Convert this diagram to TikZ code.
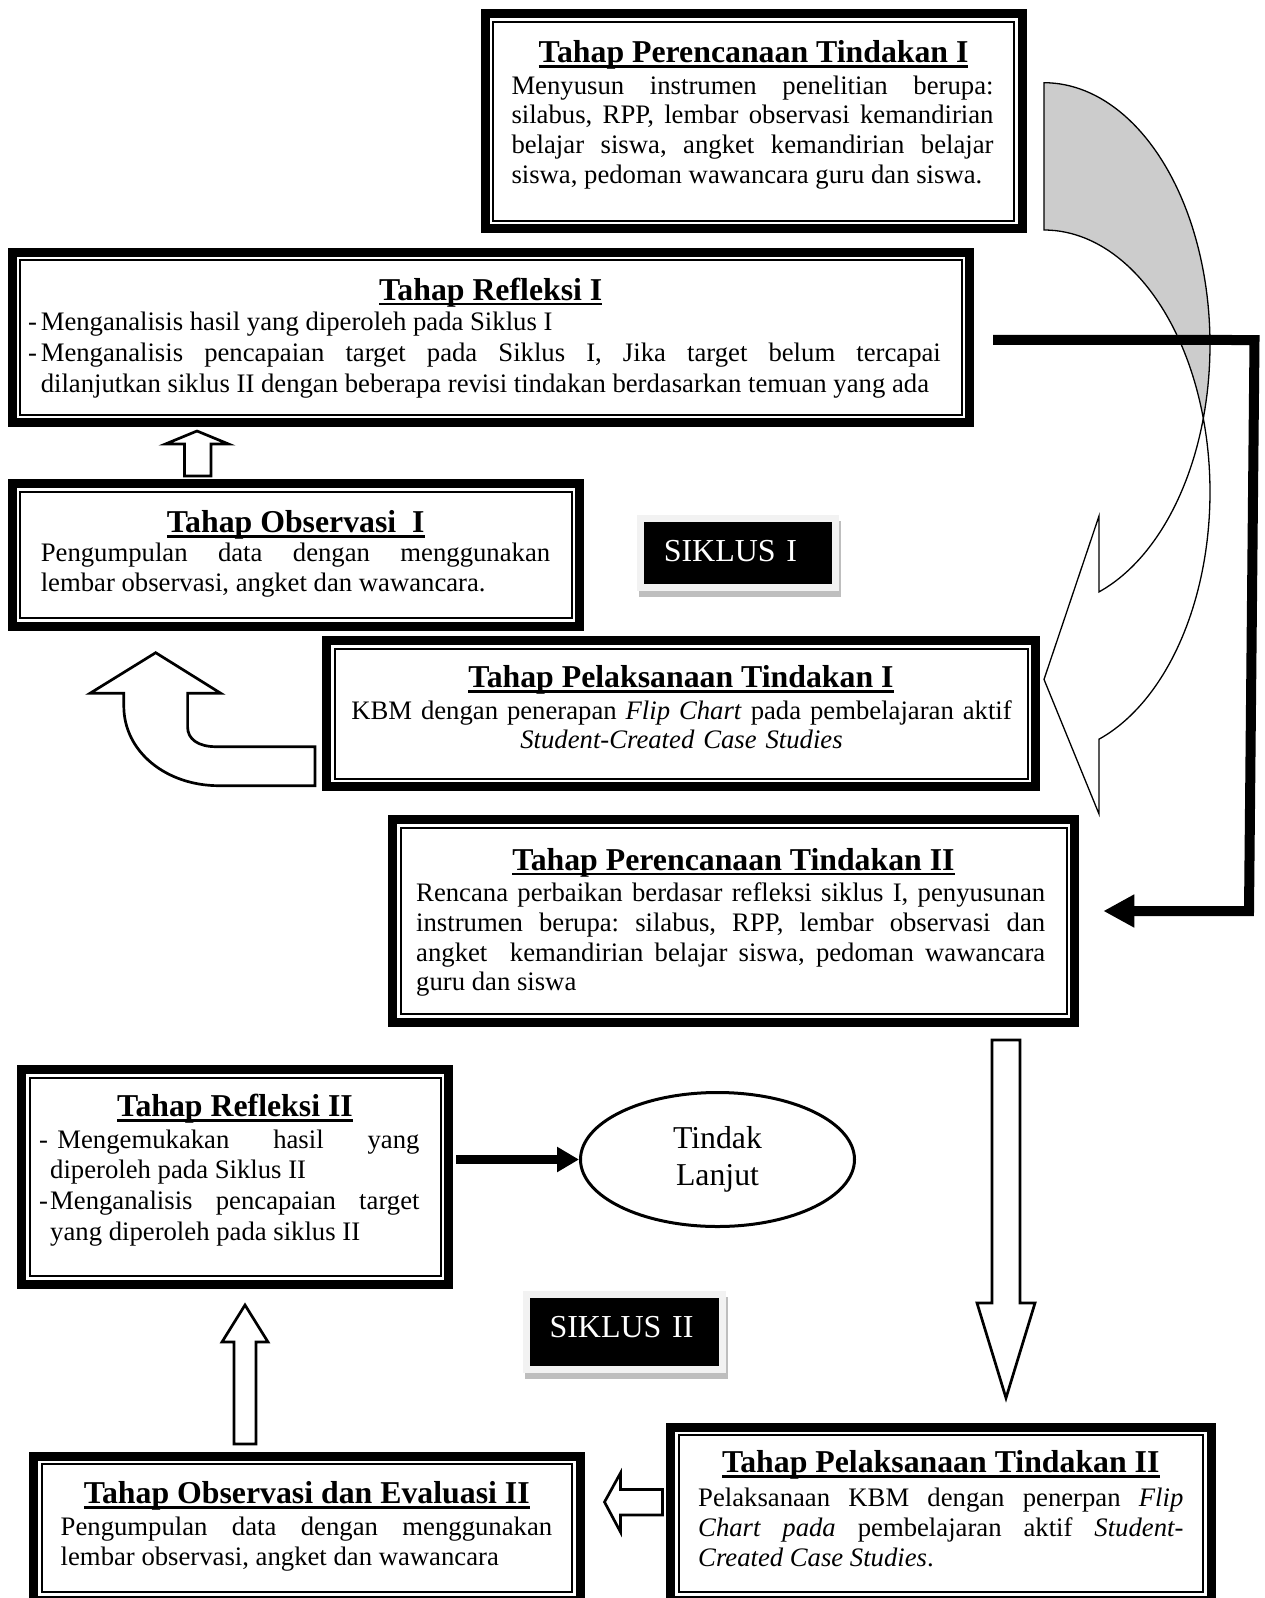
\documentclass[tikz,border=0pt]{standalone}
\usepackage{fontspec}
\setmainfont{Liberation Serif}
\usetikzlibrary{arrows.meta,positioning,calc,shapes.geometric}
\definecolor{RibbonGray}{RGB}{204,204,204}
\definecolor{LabelLight}{RGB}{242,242,242}
\definecolor{LabelShade}{RGB}{190,190,190}
\newsavebox{\headbox}
\newcommand{\headline}[1]{\sbox{\headbox}{#1}\rlap{\rule[-5.3pt]{\wd\headbox}{2.6pt}}\usebox{\headbox}}
\newcommand{\dashitem}[2]{\hangindent=#1\hangafter=1\noindent\makebox[#2][l]{-}}
\tolerance=10000 \hbadness=10000 \hyphenpenalty=10000
\frenchspacing

\begin{document}
\begin{tikzpicture}[x=1pt,y=-1pt,>=Latex,
  stage/.style={draw, line width=2pt, fill=white, inner sep=0pt, outer sep=0pt,
    preaction={draw, line width=25pt},
    preaction={draw=white, line width=7pt}},
  tahap/.style={font=\bfseries\fontsize{31.8}{36}\selectfont, anchor=base, inner sep=0pt},
  isi/.style={font=\fontsize{26.7}{#1}\selectfont, anchor=base west, inner sep=0pt, align=justify},
  hollow/.style={draw, fill=white, line width=2.7pt, line join=miter},
  link/.style={line width=10pt, line join=miter},
  ribbon/.style={draw, line width=1.3pt},
  siklus/.style={fill=black, text=white, font=\fontsize{32}{38}\selectfont,
    align=left, inner xsep=19.5pt, inner ysep=0pt, text height=22pt,
    preaction={draw=LabelShade, line width=14pt, transform canvas={shift={(1.5pt,-6pt)}}},
    preaction={draw=LabelLight, line width=14pt}}]
  \fill[white] (0,0) rectangle (1264,1598);
  \useasboundingbox (0,0) rectangle (1264,1598);

  % frames
  \node[stage, minimum width=521.2pt, minimum height=198.7pt] (plan1) at (753.6,121.2) {};
  \node[stage, minimum width=941.5pt, minimum height=154.5pt] (refl1) at (490.75,337.25) {};
  \node[stage, minimum width=551.5pt, minimum height=126.4pt] (obs1) at (295.75,555) {};
  \node[stage, minimum width=693pt, minimum height=130pt] (act1) at (681,713.5) {};
  \node[stage, minimum width=666pt, minimum height=186.5pt] (plan2) at (733.5,920.75) {};
  \node[stage, minimum width=411pt, minimum height=198.5pt] (refl2) at (235,1176.75) {};
  \node[stage, minimum width=530.5pt, minimum height=127.8pt] (obs2) at (306.75,1528.1) {};
  \node[stage, minimum width=524.5pt, minimum height=156.8pt] (act2) at (940.75,1513.6) {};

  % texts
  \node[tahap] (plan1title) at (753.6,62.7) {\headline{Tahap Perencanaan Tindakan I}};
  \node[isi=29.7, text width=482pt] (plan1text) at (511.3,94) {Menyusun instrumen penelitian berupa:\linebreak silabus, RPP, lembar observasi kemandirian\linebreak belajar siswa, angket kemandirian belajar\linebreak siswa, pedoman wawancara guru dan siswa.};

  \node[tahap] (refl1title) at (490.75,300) {\headline{Tahap Refleksi I}};
  \node[isi=31, text width=912.6pt] (refl1text) at (28,330) {\dashitem{12.6pt}{12.6pt}Menganalisis hasil yang diperoleh pada Siklus I\par
    \dashitem{12.6pt}{12.6pt}Menganalisis pencapaian target pada Siklus I, Jika target belum tercapai\linebreak dilanjutkan siklus II dengan beberapa revisi tindakan berdasarkan temuan yang ada\par};

  \node[tahap] (obs1title) at (295.75,532.7) {\headline{Tahap Observasi\ \ I}};
  \node[isi=30, text width=509.4pt] (obs1text) at (40.6,561.7) {Pengumpulan data dengan menggunakan\linebreak lembar observasi, angket dan wawancara.};

  \node[tahap] (act1title) at (681,687.7) {\headline{Tahap Pelaksanaan Tindakan I}};
  \node[isi=29, text width=680pt, align=center, anchor=base] (act1text) at (681.5,719.3) {KBM dengan penerapan \textit{Flip Chart} pada pembelajaran aktif\\\textit{Student-Created Case Studies}};

  \node[tahap] (plan2title) at (733.5,870) {\headline{Tahap Perencanaan Tindakan II}};
  \node[isi=29.7, text width=629pt] (plan2text) at (416,901.7) {Rencana perbaikan berdasar refleksi siklus I, penyusunan\linebreak instrumen berupa: silabus, RPP, lembar observasi dan\linebreak angket\ \ kemandirian belajar siswa, pedoman wawancara\linebreak guru dan siswa};

  \node[tahap] (refl2title) at (235,1116.7) {\headline{Tahap Refleksi II}};
  \node[isi=30.6, text width=380.5pt] (refl2text) at (38.8,1148.3) {\dashitem{11.2pt}{18.4pt}Mengemukakan hasil yang\linebreak diperoleh pada Siklus II\par
    \dashitem{11.2pt}{11.2pt}Menganalisis pencapaian target\linebreak yang diperoleh pada siklus II\par};

  \node[tahap] (obs2title) at (306.75,1503.3) {\headline{Tahap Observasi dan Evaluasi II}};
  \node[isi=30, text width=491.5pt] (obs2text) at (60.5,1535) {Pengumpulan data dengan menggunakan\linebreak lembar observasi, angket dan wawancara};

  \node[tahap] (act2title) at (940.75,1472.7) {\headline{Tahap Pelaksanaan Tindakan II}};
  \node[isi=30, text width=485.2pt] (act2text) at (698,1506.7) {Pelaksanaan KBM dengan penerpan \textit{Flip}\linebreak \textit{Chart pada} pembelajaran aktif \textit{Student-}\linebreak\textit{Created Case Studies}.};

  \node[draw, ellipse, line width=3pt, minimum width=274pt, minimum height=134pt, inner sep=0pt,
    align=center, font=\fontsize{31.8}{37}\selectfont] (lanjut) at (717.5,1159.5) {Tindak\\Lanjut};

  \node[siklus, text width=149pt, minimum height=62.3pt, text depth=4.4pt] (siklus1) at (738.25,552.9) {SIKLUS I};
  \node[siklus, text width=150pt, minimum height=67.7pt, text depth=11.8pt] (siklus2) at (624.5,1332.2) {SIKLUS II};

  % curved arrow
  \filldraw[ribbon, fill=RibbonGray] plot[domain=-90:16.3, samples=60] ({1044+166*cos(\x)},{344.7+262*sin(\x)})
    -- plot[domain=-16.3:-90, samples=60] ({1044+166*cos(\x)},{492+262*sin(\x)}) -- cycle;
  \filldraw[ribbon, fill=white] plot[domain=16.3:70.65, samples=50] ({1044+166*cos(\x)},{344.7+262*sin(\x)})
    -- (1099,516) -- (1044,679.4) -- (1099,814)
    -- plot[domain=70.65:-16.3, samples=60] ({1044+166*cos(\x)},{492+262*sin(\x)}) -- cycle;

  % block arrows
  \draw[hollow] (184.5,476) -- (184.5,444) -- (165.5,444) -- (197,431) -- (228.5,444) -- (211,444) -- (211,476) -- cycle;
  \draw[hollow] (315,785.7) -- (219,785.7) .. controls (166.5,785.7) and (123.8,752) .. (123.8,706)
    -- (123.8,693.3) -- (90,693.3) -- (155.7,652.7) -- (220.8,693.3) -- (187.6,693.3) -- (187.6,727)
    .. controls (187.6,739) and (198,746.7) .. (216,746.7) -- (315,746.7) -- cycle;
  \draw[hollow] (992,1040) -- (1020,1040) -- (1020,1303) -- (1035,1303) -- (1006,1398) -- (977,1303) -- (992,1303) -- cycle;
  \draw[hollow] (662.5,1489.5) -- (620.5,1489.5) -- (620.5,1473) -- (604.5,1502) -- (620.5,1532) -- (620.5,1515) -- (662.5,1515) -- cycle;
  \draw[hollow] (234,1444) -- (234,1342) -- (222,1342) -- (245,1305) -- (268,1342) -- (256,1342) -- (256,1444) -- cycle;

  % connectors
  \draw[link, -{Triangle[length=31pt,width=31pt]}] ($(refl1.east)+(31.5,2.7)$) -- (1254.5,340) -- (1249,911) -- ($(plan2.east)+(36.8,-9.75)$);
  \draw[line width=8.7pt, -{Triangle[length=22pt,width=24pt]}] ($(refl2.east)+(15.5,-17.25)$) -- (lanjut.west);
\end{tikzpicture}
\end{document}
